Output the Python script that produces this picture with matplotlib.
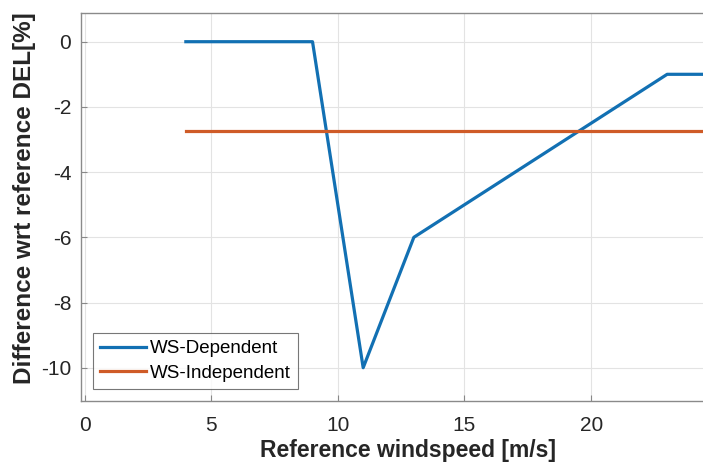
import matplotlib
matplotlib.use("Agg")
import matplotlib.pyplot as plt

plt.rcParams['font.family'] = ['Liberation Sans', 'DejaVu Sans']
plt.rcParams['axes.unicode_minus'] = False

ws_dep_x = [4, 9, 11, 13, 23, 25.5]
ws_dep_y = [0, 0, -10, -6, -1, -1]
ws_ind_x = [4, 25.5]
ws_ind_y = [-2.74, -2.74]
xticks = [0, 5, 10, 15, 20]
yticks = [0, -2, -4, -6, -8, -10]

fig = plt.figure(figsize=(7.03, 4.68), dpi=100)
ax = fig.add_axes([0.1152, 0.1432, 0.93, 0.8290])

ax.plot(ws_dep_x, ws_dep_y, color='#1270b3', lw=2.3, label='WS-Dependent')
ax.plot(ws_ind_x, ws_ind_y, color='#cf5b27', lw=2.3, label='WS-Independent')

ax.set_xlim(-0.14, 25.67)
ax.set_ylim(-11.02, 0.88)
ax.set_xticks(xticks)
ax.set_yticks(yticks)
ax.grid(True, color='#e3e3e3', lw=0.8)
ax.set_axisbelow(True)
ax.tick_params(direction='in', length=4, colors='#888888', labelcolor='#262626',
               labelsize=15, top=False, right=False)
ax.tick_params(axis='x', pad=11)
ax.tick_params(axis='y', pad=7)
for s in ax.spines.values():
    s.set_color('#8a8a8a')
    s.set_linewidth(1.0)

ax.set_xlabel('Reference windspeed [m/s]', fontsize=16.5, fontweight='bold', color='#262626', labelpad=3)
ax.set_ylabel('Difference wrt reference DEL[%]', fontsize=17.5, fontweight='bold', color='#262626',
              va='center')
ax.yaxis.set_label_coords(-0.087, 0.522)

leg = ax.legend(loc='lower left', bbox_to_anchor=(0.018, 0.03), fontsize=13.5, frameon=True,
                fancybox=False, edgecolor='#555555', handlelength=2.45, borderpad=0.4,
                labelspacing=0.4, handletextpad=0.2, borderaxespad=0)
leg.get_frame().set_linewidth(0.8)

fig.savefig('out.png', dpi=100)
